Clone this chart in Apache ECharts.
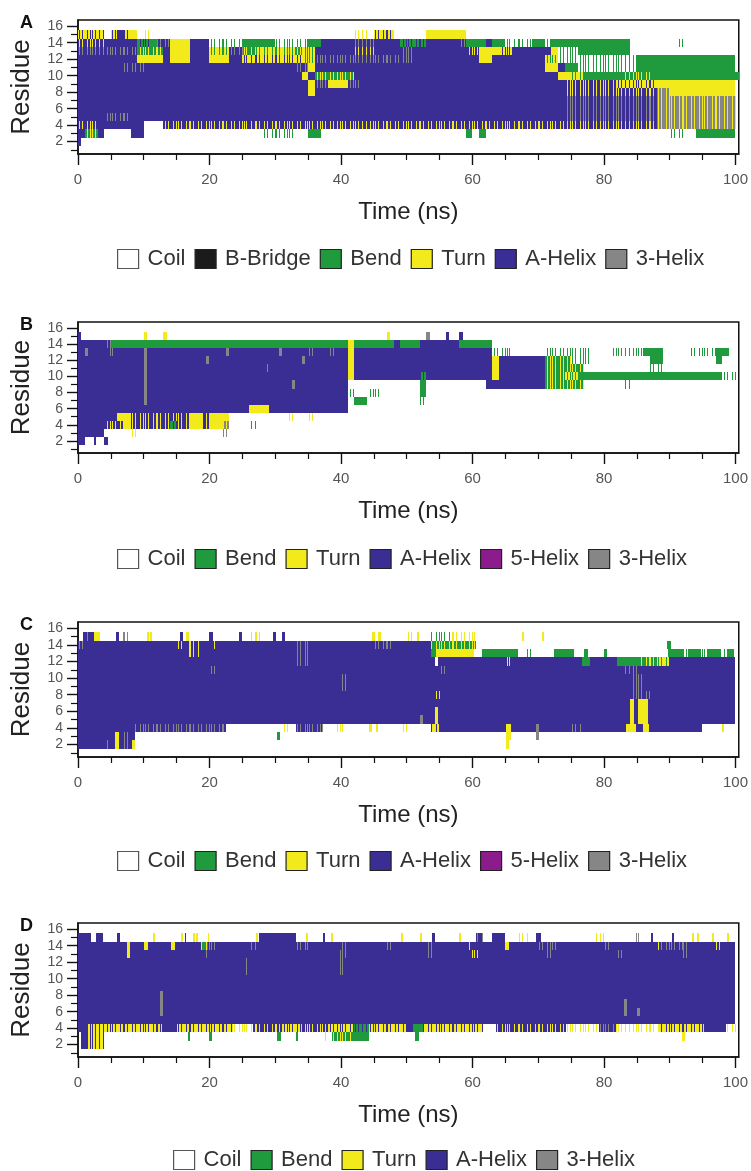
<!DOCTYPE html>
<html>
<head>
<meta charset="utf-8">
<script src="https://cdn.jsdelivr.net/npm/echarts@6/dist/echarts.min.js"></script>
<style>
  html, body { margin: 0; padding: 0; background: #fff; }
  #chart { width: 751px; height: 1171px; }
</style>
</head>
<body>
<div id="chart"></div>
<script>
// DSSP secondary-structure states and their colours
const stateNames  = ['Coil', 'B-Bridge', 'Bend', 'Turn', 'A-Helix', '5-Helix', '3-Helix'];
const stateColors = ['#ffffff', '#1b1b1b', '#1f9a3c', '#f3ea1c', '#3a2e94', '#8c1c8c', '#868686'];

// Row code letters: [dominant state, flickering state] (null = coil / white)
const cellCodes = {
  '_': [null, null],
  'H': ['A-Helix', null], 'T': ['Turn', null], 'S': ['Bend', null],
  'G': ['3-Helix', null], 'I': ['5-Helix', null], 'B': ['B-Bridge', null],
  'y': ['A-Helix', 'Turn'], 'x': ['A-Helix', '3-Helix'], 'z': ['A-Helix', 'Bend'],
  'q': ['Turn', 'A-Helix'], 'f': ['Turn', 'Bend'],
  'e': ['Bend', 'Turn'], 'k': ['Bend', 'A-Helix'],
  'r': ['3-Helix', 'Turn'],
  'w': [null, 'Bend'], 'u': [null, 'Turn'], 'v': [null, 'A-Helix'], 'm': [null, '3-Helix']
};

// Axis ticks
const timeTicks = [0, 20, 40, 60, 80, 100];
const timeMinorTicks = [5, 10, 15, 25, 30, 35, 45, 50, 55, 65, 70, 75, 85, 90, 95];
const residueTicks = [2, 4, 6, 8, 10, 12, 14, 16];
const residueMinorTicks = [1, 3, 5, 7, 9, 11, 13, 15];

// Legends of each panel
const legendA = ['Coil', 'B-Bridge', 'Bend', 'Turn', 'A-Helix', '3-Helix'];
const legendB = ['Coil', 'Bend', 'Turn', 'A-Helix', '5-Helix', '3-Helix'];
const legendC = ['Coil', 'Bend', 'Turn', 'A-Helix', '5-Helix', '3-Helix'];
const legendD = ['Coil', 'Bend', 'Turn', 'A-Helix', '3-Helix'];

// Structure per residue over time, residue 16 first down to residue 1.
// Tokens are <code><duration in ns>, laid end to end from t = 0.
const structA = [
  '',
  'q4 _1 q1 H1 q1 T1 _1 u1 _31 u2 _1 q3 _5 T6',
  'y4 H5 k2 S1 x2 T3 H3 w5 S5 w5 S2 H5 x3 H4 k4 H5 x1 S3 H1 S2 w4 S2 w1 S12 _7 w1',
  'x9 e4 H1 T3 H3 f3 x2 e2 f6 e1 f2 H6 y3 H4 x2 H8 y2 T3 q2 H6 T1 w3 S8',
  'H9 T4 H1 T3 H3 T3 H2 q9 f2 x15 H10 T2 H8 f2 w12 S15',
  'H7 x3 H23 x2 T1 H35 T2 H1 S2 w9 S15',
  'H34 T1 H1 e6 H31 T2 f2 S6 e4 S14',
  'H35 T1 x2 T3 x2 H31 y8 q6 T12',
  'H35 T1 H38 y14 r2 T10',
  'H74 x14 r12',
  'H74 x14 r12',
  'H4 x4 H66 x14 r12',
  'y3 H7 _3 y75 r12',
  'H1 e2 H1 _4 H2 _18 w5 _2 S2 _22 S1 _1 S1 _28 w2 _2 S6',
  'H0.5',
  ''
];

const structB = [
  '',
  'H0.5 _9.5 u0.5 _2.5 u0.5 _33.5 u0.5 _5.5 m0.5 _2.5 v0.5 _1.5 v0.5',
  'H4 x1 S36 T1 S6 H1 S3 H6 S5',
  'H1 x0.5 H3 x1 H4.5 x0.5 H12 x0.5 H7.5 x0.5 H4 x1 H2 x1 H2 T1 H21 w3 _5 w7 _3 w5 S3 _4 w4 S2',
  'H10 x0.5 H9 x0.5 H14 x0.5 H6.5 T1 H21 T1 H7 e4 w3 _9 S2 _8 S1',
  'H10 x0.5 H18 x1 H11.5 T1 H21 T1 H7 e6 _10 w2',
  'H10 x0.5 H30.5 T1 H10 k1 H10 T1 H7 e3 f2 S22 w2',
  'H10 x0.5 H22 x0.5 H8 _11 S1 _9 H9 e6 _6 w1',
  'H10 x0.5 H30.5 w1 _2 w2 _6 S1',
  'H10 x0.5 H30.5 _1 S2 _8 w1',
  'H26 T3 H12',
  'H6 T2 y9 T2 y1 T3 _9 u1 _2 u1',
  'H4 y3 T1 y6 k1 y2 T2 y1 T2 r1 _3 w1',
  'H4 _4 u1 _13 m1',
  'H1 _1.4 H0.4 _1.1 H0.6',
  ''
];

const structC = [
  '',
  '_0.8 x1 H0.7 T0.8 _2.5 v0.5 _0.5 m1 _2.7 u0.3 _0.1 u0.3 _4.3 v0.4 _0.6 u0.4 _3.1 v0.5 _4 v0.4 _1.1 u2 _1.7 v0.4 _1 v0.4 _13.2 u0.4 _0.6 u0.4 _4 u0.6 _0.8 u0.3 _1.9 w3 u3.8 _7 u0.3 _2.7 u0.3',
  'x1 H14 y1 H0.7 y1.8 H2 y0.6 H11.9 x2 H10 x3 H5.7 e6.8 _29.1 w0.6',
  'H16.7 y1.8 H14.5 x2 H18.7 S0.8 T5.7 _1.2 S5.5 _1.1 w1 _3.4 S3 _1.6 w0.6 _2.4 w0.5 _9.3 S2 w1 S2 w1 S2 w1 S1',
  'H33 x2 H19.3 _0.5 H10.2 y1 H10.6 S1.2 H4.2 S3.3 e2.7 f1.9 H10.1',
  'H20 x1 H34 x1 H27 x2 H15',
  'H40 x1 H43 x2 H14',
  'H40 x1 H43 x2 H14',
  'H54 y1 H29 x3 H13',
  'H84 T0.6 H0.6 T1.5 H13.3',
  'H54.3 T0.5 H29.2 T0.6 H0.6 T1.5 H13.3',
  'H52 x0.5 H1.8 T0.5 H29.2 T0.6 H0.6 T1.5 H13.3',
  'H8.6 x13.9 _8.5 u1 _1.2 x4.1 _1.5 u1.6 _3.9 u0.4 _0.6 u0.4 _3.3 u1 _3.7 q1.3 H10.1 T0.7 H3.8 x0.5 H4.9 x1.5 H6.9 T1.4 H1.1 T1 H8 _3 u0.3',
  'H5.6 T0.7 H0.6 x0.8 H0.9 _21.7 w0.4 _34.4 T0.7 _3.8 m0.5',
  'H3.9 x0.9 H0.8 T0.7 H0.6 x0.8 H0.5 T0.4 _56.5 u0.5',
  ''
];

const structD = [
  '',
  'H2 _0.8 H1 _2.2 v0.4 _5 u0.3 _4 u0.3 _0.2 v0.3 _1 u0.3 _0.2 u0.3 _1.4 u0.3 _7.1 u0.3 _0.2 H5.6 _1.5 u0.3 _2.2 v0.3 _1 u0.3 _10.3 u0.3 _2.6 u0.3 _1.5 H0.5 _3.7 u0.3 _2.2 x1 _1.5 H2 _2 u0.3 _0.2 u1 _1.1 H0.8 _7.9 u1.7 _4.8 m0.7 _1.6 v0.3 _3 v0.3 _2.7 u0.3 _0.5 u0.3 _2 u0.3 _1.9 u0.3',
  'H7.5 y0.4 H2.1 y0.6 H3.6 y0.5 H4 e1 x1.3 H5 x1 H6 x2 H5 x1 H6 x1 H5 x1 H5 y1 H5 y0.6 H4.4 x3 H7 x1 H6.6 y0.7 x5 H3.7 y1 H2',
  'H7.5 y0.4 H11 x1 H20 x1 H12 x1 H6 y1 H10 x1 H10 x1 H9 x1 H7.1',
  'H25.5 x0.8 H13.5 x0.8 H59.4',
  'H25.5 x0.8 H13.5 x0.8 H59.4',
  'H100',
  'H100',
  'H12.5 x0.5 H87',
  'H12.5 x0.5 H70 x0.5 H16.5',
  'H12.5 x0.5 H70 x0.5 H1.5 x0.5 H14.5',
  'H100',
  'H1.5 q11.2 H2.3 q8.6 u3 y4.4 q3 y4 q3.8 k2.5 q5.6 H1 S1.5 q9.1 _2 y10.7 u5.1 x2.5 u6.6 q7 H3.1 u1.5',
  '_0.5 H1 q2.3 _12.9 w0.4 _2.8 w0.5 _9.9 w0.5 _2.3 w0.3 _4.1 u0.7 _0.5 e3.1 S2.5 _7 w0.5 _40 u0.5',
  '_0.5 H1 q2.3',
  ''
];

// Panel layout
const panels = [
  { letter: 'A', rows: structA, legend: legendA, top: 20,  height: 134, legendLeft: 117, legendTop: 248 },
  { letter: 'B', rows: structB, legend: legendB, top: 322, height: 131, legendLeft: 117, legendTop: 548 },
  { letter: 'C', rows: structC, legend: legendC, top: 622, height: 135, legendLeft: 117, legendTop: 850 },
  { letter: 'D', rows: structD, legend: legendD, top: 923, height: 134, legendLeft: 173, legendTop: 1149 }
];

const FONT = '"Liberation Sans", Arial, Helvetica, sans-serif';
const GRID_LEFT = 78, GRID_WIDTH = 662;
// flicker streak offsets inside each nanosecond, cycled to avoid a rigid comb
const STREAK_PATTERN = [[0.18, 0.62], [0.38, 0.86], [0.06, 0.52], [0.27, 0.74], [0.45, 0.9]];
const STREAK_W = 0.15;

function stateIndex(name) { return name ? stateNames.indexOf(name) : -1; }

function parseRow(str) {
  const cells = [];
  let t = 0;
  str.trim().split(/\s+/).filter(Boolean).forEach(tok => {
    const code = tok[0];
    const len = parseFloat(tok.slice(1));
    if (code !== '_') cells.push([t, t + len, code]);
    t += len;
  });
  return cells;
}

// One residue/time cell: dominant state fill plus thin flicker streaks
function renderCell(params, api) {
  const t0 = api.value(0), t1 = api.value(1), res = api.value(2);
  const base = api.value(3), streak = api.value(4);
  const yTop = Math.round(api.coord([t0, res + 0.5])[1]);
  const yBot = Math.round(api.coord([t0, res - 0.5])[1]);
  const children = [];
  const bar = (a, b, color) => {
    const xa = Math.round(api.coord([a, res])[0]);
    let xb = Math.round(api.coord([b, res])[0]);
    if (xb <= xa) xb = xa + 1;
    children.push({ type: 'rect', shape: { x: xa, y: yTop, width: xb - xa, height: yBot - yTop },
                    style: { fill: color } });
  };
  if (base >= 0) bar(t0, t1, stateColors[base]);
  if (streak >= 0) {
    const c = stateColors[streak];
    if (t1 - t0 < 0.6) {
      bar(t0, t1, c);
    } else {
      for (let k = Math.floor(t0); k < t1; k++) {
        STREAK_PATTERN[k % STREAK_PATTERN.length].forEach(f => {
          const s = k + f;
          if (s >= t0 && s < t1) bar(s, Math.min(s + STREAK_W, t1), c);
        });
      }
    }
  }
  return { type: 'group', children };
}

const grid = [], xAxis = [], yAxis = [], series = [], legend = [], graphic = [];

panels.forEach((p, i) => {
  grid.push({ left: GRID_LEFT, width: GRID_WIDTH, top: p.top, height: p.height,
              show: true, borderColor: '#111', borderWidth: 1.5, backgroundColor: 'transparent' });

  xAxis.push({
    gridIndex: i, type: 'value', min: 0, max: 100.5, position: 'bottom',
    axisLine: { show: true, onZero: false, lineStyle: { color: '#111', width: 1.5 } },
    axisTick: { show: true, length: 11, customValues: timeTicks, lineStyle: { color: '#111', width: 1.4 } },
    axisLabel: { customValues: timeTicks, margin: 18, fontSize: 15, color: '#555', fontFamily: FONT },
    splitLine: { show: false },
    name: 'Time (ns)', nameLocation: 'middle', nameGap: 46,
    nameTextStyle: { fontSize: 24, color: '#222', fontFamily: FONT }
  });
  xAxis.push({
    gridIndex: i, type: 'value', min: 0, max: 100.5, position: 'bottom',
    axisLine: { show: false },
    axisTick: { show: true, length: 6, customValues: timeMinorTicks, lineStyle: { color: '#111', width: 1.2 } },
    axisLabel: { show: false }, splitLine: { show: false }
  });
  yAxis.push({
    gridIndex: i, type: 'value', min: 0.5, max: 16.75, position: 'left',
    axisLine: { show: true, onZero: false, lineStyle: { color: '#111', width: 1.5 } },
    axisTick: { show: true, length: 11, customValues: residueTicks, lineStyle: { color: '#111', width: 1.4 } },
    axisLabel: { customValues: residueTicks, margin: 15, fontSize: 14, color: '#555', fontFamily: FONT },
    splitLine: { show: false },
    name: 'Residue', nameLocation: 'middle', nameGap: 43,
    nameTextStyle: { fontSize: 26, color: '#222', fontFamily: FONT }
  });
  yAxis.push({
    gridIndex: i, type: 'value', min: 0.5, max: 16.75, position: 'left',
    axisLine: { show: false },
    axisTick: { show: true, length: 7, customValues: residueMinorTicks, lineStyle: { color: '#111', width: 1.2 } },
    axisLabel: { show: false }, splitLine: { show: false }
  });

  // Group cells by the state that owns them
  const byState = {};
  p.legend.forEach(n => { byState[n] = []; });
  p.rows.forEach((row, k) => {
    const res = 16 - k;
    parseRow(row).forEach(([t0, t1, code]) => {
      const [base, streak] = cellCodes[code];
      const owner = base || streak;
      (byState[owner] = byState[owner] || []).push([t0, t1, res, stateIndex(base), stateIndex(streak)]);
    });
  });
  Object.keys(byState).forEach(name => {
    series.push({
      type: 'custom', name, xAxisIndex: 2 * i, yAxisIndex: 2 * i,
      renderItem: renderCell, data: byState[name], clip: true, silent: true,
      encode: { x: [0, 1], y: 2 },
      itemStyle: { color: stateColors[stateIndex(name)] }
    });
  });

  legend.push({
    left: p.legendLeft, top: p.legendTop, padding: 0, orient: 'horizontal',
    icon: 'rect', itemWidth: 21, itemHeight: 19, itemGap: 9, selectedMode: false,
    textStyle: { fontSize: 22, color: '#333', fontFamily: FONT, padding: [0, 0, 0, 4] },
    data: p.legend.map(n => ({
      name: n,
      itemStyle: { color: stateColors[stateIndex(n)], borderColor: n === 'Coil' ? '#555' : '#222', borderWidth: 1.2 }
    }))
  });

  graphic.push({
    type: 'text', left: 20, top: p.top - 6,
    style: { text: p.letter, font: 'bold 18px ' + FONT, fill: '#111' }
  });
});

const chart = echarts.init(document.getElementById('chart'), null, { renderer: 'canvas' });
chart.setOption({
  animation: false,
  backgroundColor: '#ffffff',
  grid, xAxis, yAxis, series, legend, graphic
});
</script>
</body>
</html>
